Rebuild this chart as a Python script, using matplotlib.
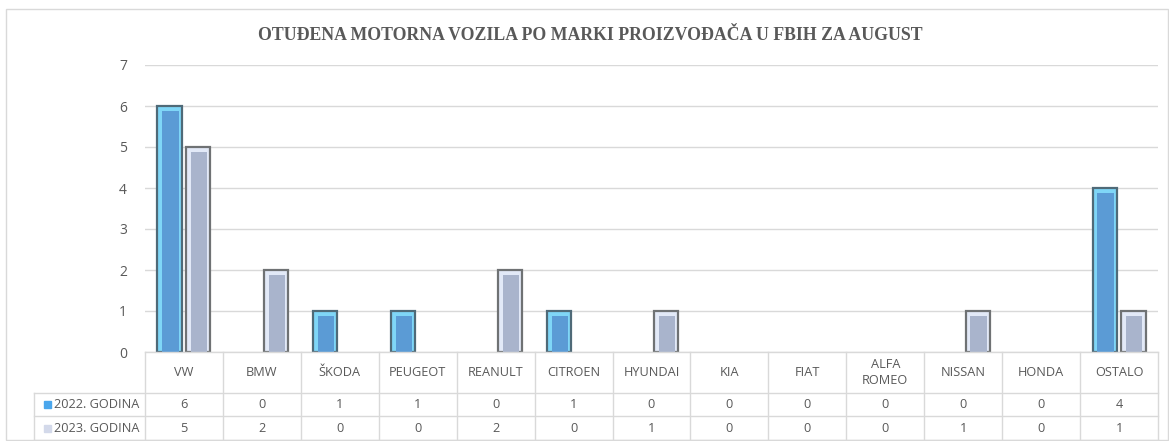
import numpy as np
import matplotlib.pyplot as plt
import matplotlib.patches as mpatches

brands = ['VW', 'BMW', 'ŠKODA', 'PEUGEOT', 'REANULT', 'CITROEN', 'HYUNDAI',
          'KIA', 'FIAT', 'ALFA\nROMEO', 'NISSAN', 'HONDA', 'OSTALO']
series_names = ['2022. GODINA', '2023. GODINA']
vals_2022 = [6, 0, 1, 1, 0, 1, 0, 0, 0, 0, 0, 0, 4]
vals_2023 = [5, 2, 0, 0, 2, 0, 1, 0, 0, 0, 1, 0, 1]

W, H = 1169, 441
txt = '#595959'
grid = '#d9d9d9'
font = 'Open Sans'

fig = plt.figure(figsize=(W / 100, H / 100), dpi=100)
fig.patch.set_facecolor('white')

# outer chart border
fig.add_artist(mpatches.Rectangle((6 / W, 1 / H), 1162 / W, (H - 9 - 1) / H,
                                  transform=fig.transFigure, fill=False,
                                  edgecolor=grid, linewidth=1))

title = fig.text(590 / W, (H - 35) / H,
                 'OTUĐENA MOTORNA VOZILA PO MARKI PROIZVOĐAČA U FBIH ZA AUGUST',
                 ha='center', va='center', fontsize=13, fontweight='bold',
                 color=txt, family='Liberation Serif')
# fit the title to the width it has in the original (~663 px)
r = fig.canvas.get_renderer()
wpx = title.get_window_extent(r).width
title.set_fontsize(13 * 663 / wpx)

# main plot area
x0, x1 = 145, 1158
ytop, ybot = 65, 352
ax = fig.add_axes([x0 / W, (H - ybot) / H, (x1 - x0) / W, (ybot - ytop) / H])
x = np.arange(len(brands))
bw = 0.31
off = 0.185

# bar look: dark outline, light inner edge, solid core
styles = [('#7fd6f7', '#5b9bd5', '#4f6a78'), ('#e2e9f7', '#a9b4cc', '#6f7274')]
for vals, sgn, (light, core, edge) in zip([vals_2022, vals_2023], [-1, 1], styles):
    v = np.array(vals, dtype=float)
    m = v > 0
    ax.bar(x[m] + sgn * off, v[m], width=bw, color=light, edgecolor=edge,
           linewidth=1.6, zorder=3)
    ax.bar(x[m] + sgn * off + 0.01, v[m] - 0.12, width=bw - 0.1, color=core,
           linewidth=0, zorder=4)

ax.set_xlim(-0.5, len(brands) - 0.5)
ax.set_ylim(0, 7)
ax.set_yticks(range(8))
ax.yaxis.grid(True, color=grid, linewidth=1)
ax.set_axisbelow(True)
for s in ax.spines.values():
    s.set_visible(False)
ax.tick_params(axis='y', length=0, pad=13, labelcolor=txt, labelsize=10)
ax.tick_params(axis='x', length=0, labelbottom=False)
for lab in ax.get_yticklabels():
    lab.set_fontfamily(font)

# data table under the chart
tl = 34
tb = 440
tax = fig.add_axes([tl / W, (H - tb) / H, (x1 - tl) / W, (tb - ybot) / H])
colw = (x1 - x0) / len(brands)
left = -0.5 - (x0 - tl) / colw
tax.set_xlim(left, len(brands) - 0.5)
tax.set_ylim(tb - ybot, 0)
tax.axis('off')
r1, r2, r3 = 41, 64, 88
lw = 1
for k in range(len(brands) + 1):
    tax.plot([k - 0.5, k - 0.5], [0, r3], color=grid, lw=lw, clip_on=False)
tax.plot([left, left], [r1, r3], color=grid, lw=lw, clip_on=False)
for yy in (r1, r2, r3):
    tax.plot([left, len(brands) - 0.5], [yy, yy], color=grid, lw=lw, clip_on=False)
tax.plot([-0.5, len(brands) - 0.5], [0, 0], color=grid, lw=lw, clip_on=False)

for i, b in enumerate(brands):
    tax.text(i, r1 / 2, b, ha='center', va='center', color=txt, fontsize=9.2,
             family=font, linespacing=1.3)
    tax.text(i, (r1 + r2) / 2, str(vals_2022[i]), ha='center', va='center',
             color=txt, fontsize=9.2, family=font)
    tax.text(i, (r2 + r3) / 2, str(vals_2023[i]), ha='center', va='center',
             color=txt, fontsize=9.2, family=font)

marker_cols = ['#4aa6ec', '#d3d9ea']
for name, yc, mc in zip(series_names, [(r1 + r2) / 2, (r2 + r3) / 2], marker_cols):
    sq = 7 / colw
    tax.add_patch(mpatches.Rectangle((left + 10 / colw, yc - 3.5), sq, 7,
                                     color=mc, clip_on=False))
    tax.text(left + 20 / colw, yc, name, ha='left', va='center', color=txt,
             fontsize=9.2, family=font)

fig.savefig('out.png', dpi=100, facecolor='white')
